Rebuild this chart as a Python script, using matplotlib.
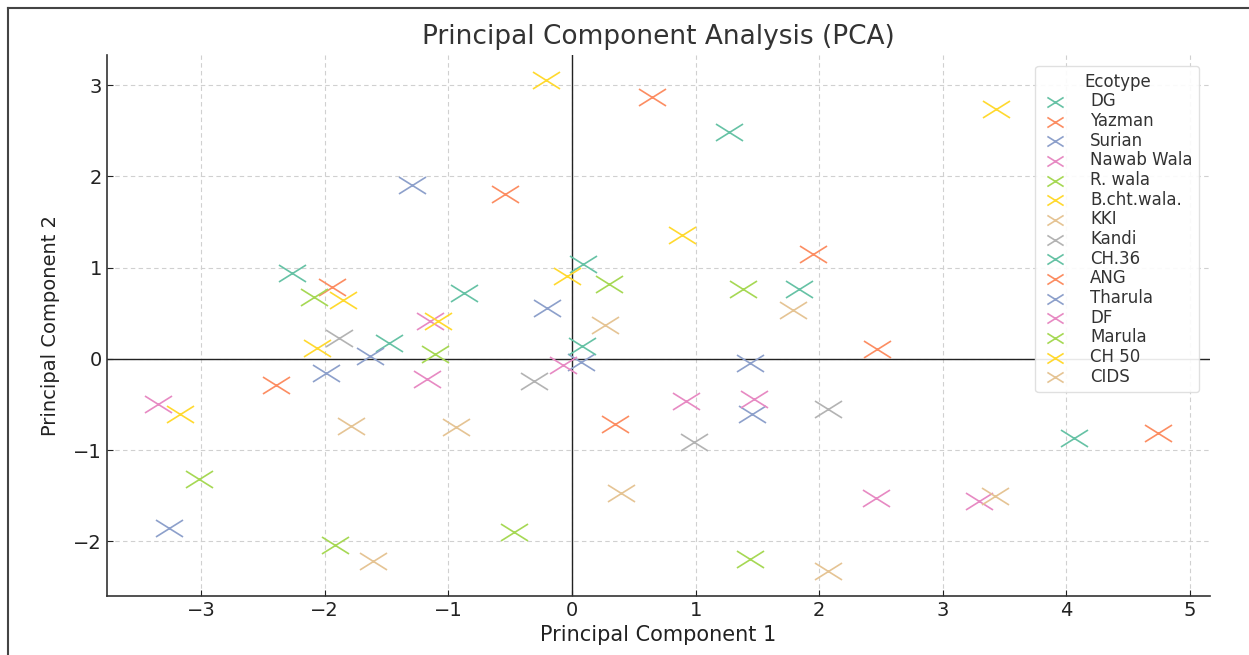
import matplotlib
matplotlib.use("Agg")
import matplotlib.pyplot as plt
from matplotlib.path import Path
from matplotlib.lines import Line2D

# PCA scores per ecotype (PC1, PC2)
ecotypes = ["DG", "Yazman", "Surian", "Nawab Wala", "R. wala", "B.cht.wala.", "KKI",
            "Kandi", "CH.36", "ANG", "Tharula", "DF", "Marula", "CH 50", "CIDS"]

pc1 = {
    "DG":          [-2.26, -0.87, -1.48, 0.09],
    "Yazman":      [-0.54, -1.94, 0.65, 1.95],
    "Surian":      [-1.29, -0.20, -1.63, 0.07],
    "Nawab Wala":  [-1.15, -0.07, -1.17, -3.35],
    "R. wala":     [-2.09, -1.11, 0.30, 1.38],
    "B.cht.wala.": [-0.21, -1.85, -1.08, -0.04],
    "KKI":         [1.79, 0.27, -1.79, -0.94],
    "Kandi":       [-1.88, -0.31, 2.07, 0.99],
    "CH.36":       [1.27, 1.84, 0.08, 4.06],
    "ANG":         [2.47, -2.39, 0.35, 4.74],
    "Tharula":     [1.44, -1.99, -3.26, 1.46],
    "DF":          [0.92, 1.47, 2.46, 3.29],
    "Marula":      [-3.02, -0.47, -1.92, 1.44],
    "CH 50":       [-2.06, 0.89, 3.43, -3.17],
    "CIDS":        [-1.61, 0.40, 3.42, 2.07],
}
pc2 = {
    "DG":          [0.94, 0.72, 0.17, 1.04],
    "Yazman":      [1.81, 0.79, 2.87, 1.15],
    "Surian":      [1.90, 0.56, 0.03, -0.03],
    "Nawab Wala":  [0.42, -0.07, -0.22, -0.50],
    "R. wala":     [0.68, 0.05, 0.82, 0.76],
    "B.cht.wala.": [3.06, 0.64, 0.41, 0.91],
    "KKI":         [0.54, 0.37, -0.74, -0.75],
    "Kandi":       [0.23, -0.24, -0.55, -0.91],
    "CH.36":       [2.49, 0.76, 0.14, -0.87],
    "ANG":         [0.11, -0.29, -0.71, -0.81],
    "Tharula":     [-0.05, -0.15, -1.85, -0.60],
    "DF":          [-0.46, -0.44, -1.52, -1.56],
    "Marula":      [-1.32, -1.90, -2.04, -2.19],
    "CH 50":       [0.12, 1.36, 2.74, -0.61],
    "CIDS":        [-2.22, -1.47, -1.50, -2.32],
}

set2 = ['#66c2a5', '#fc8d62', '#8da0cb', '#e78ac3', '#a6d854', '#ffd92f', '#e5c494', '#b3b3b3']

# a cross that is wider than tall
wide_x = Path([(-1.6, -1), (1.6, 1), (-1.6, 1), (1.6, -1)],
              [Path.MOVETO, Path.LINETO, Path.MOVETO, Path.LINETO])

fig = plt.figure(figsize=(12.49, 6.55), dpi=100)
ax = fig.add_axes([0.0857, 0.090, 0.883, 0.826])

for i, name in enumerate(ecotypes):
    ax.scatter(pc1[name], pc2[name], marker=wide_x, s=380, linewidths=1.2,
               color=set2[i % len(set2)], label=name, zorder=3)

ax.axhline(0, color='#222222', lw=1.0, zorder=2)
ax.axvline(0, color='#222222', lw=1.0, zorder=2)
ax.grid(True, linestyle=(0, (4, 3)), color='#d0d0d0', lw=0.8)
ax.set_axisbelow(True)

ax.set_xlim(-3.76, 5.16)
ax.set_ylim(-2.6, 3.33)
ax.set_xticks(range(-3, 6))
ax.set_yticks(range(-2, 4))

for side in ['top', 'right']:
    ax.spines[side].set_visible(False)
for side in ['left', 'bottom']:
    ax.spines[side].set_color('#333333')
    ax.spines[side].set_linewidth(1.2)
ax.tick_params(direction='in', length=4, labelsize=14, colors='#222222')

ax.set_title('Principal Component Analysis (PCA)', fontsize=19, color='#333333', pad=8)
ax.set_xlabel('Principal Component 1', fontsize=15, color='#222222', labelpad=4)
ax.set_ylabel('Principal Component 2', fontsize=14, color='#222222', labelpad=10)

leg = ax.legend(title='Ecotype', loc='upper right', bbox_to_anchor=(0.998, 0.995),
                fontsize=12, title_fontsize=12, markerscale=0.6, handlelength=1.6,
                handletextpad=1.3, labelspacing=0.1, borderpad=0.4,
                framealpha=0.9, edgecolor='#dddddd', scatterpoints=1)
for t in leg.get_texts():
    t.set_color('#333333')
leg.get_title().set_color('#333333')

# thin frame around the figure (top and left edges)
fx = 8 / 1249
fy = 1 - 8 / 655
fig.add_artist(Line2D([fx, fx], [0, fy], color='#444444', lw=1.5, transform=fig.transFigure))
fig.add_artist(Line2D([fx, 1], [fy, fy], color='#444444', lw=1.5, transform=fig.transFigure))

fig.savefig('out.png', dpi=100)
